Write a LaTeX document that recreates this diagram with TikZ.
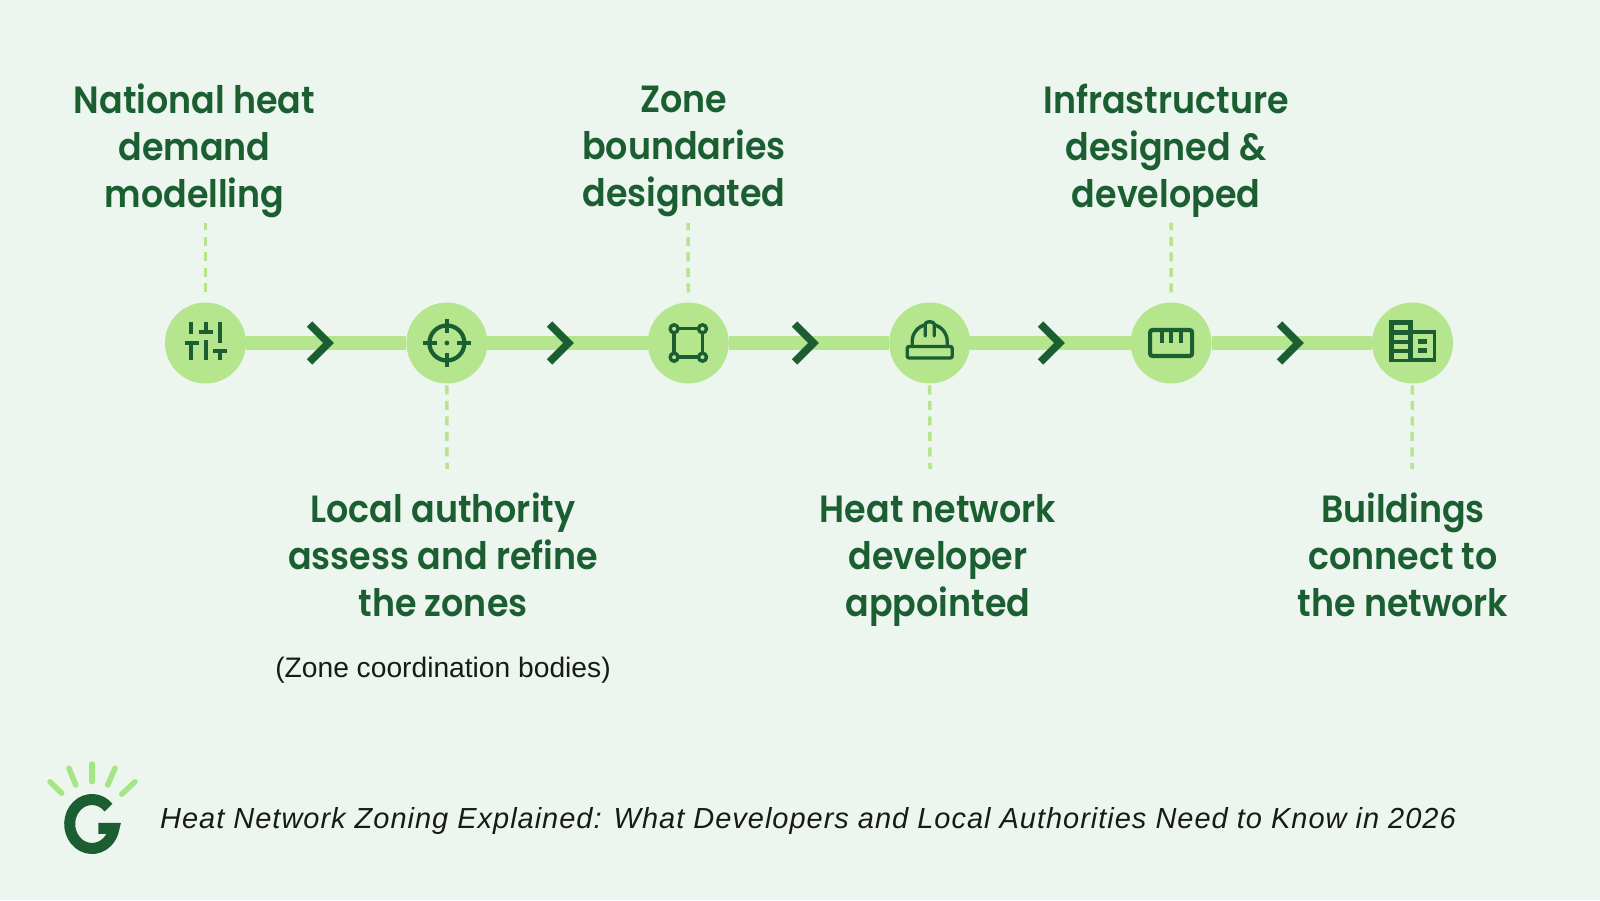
\documentclass[tikz,border=0pt]{standalone}
\usepackage{fontspec}
\setmainfont{Liberation Sans}
\newfontfamily\headfont{Poppins SemiBold}[FakeStretch=0.92]
\usetikzlibrary{backgrounds, positioning}
\definecolor{paper}{HTML}{ECF6EE}
\definecolor{leaf}{HTML}{B5E58C}
\definecolor{forest}{HTML}{1B5E31}
\definecolor{ray}{HTML}{A4E683}
\tikzset{
  stage/.style={circle, fill=leaf, minimum size=81pt, inner sep=0pt, outer sep=0pt},
  heading/.style={font=\headfont\fontsize{37.9}{47}\selectfont, text=forest, align=center, inner sep=0pt,
    execute at begin node=\rule{0pt}{33pt}, execute at end node=\rule[-14pt]{0pt}{14pt}},
  track/.style={draw=leaf, line width=14.5pt},
  leader/.style={draw=leaf, line width=3.5pt, dash pattern=on 9pt off 6.5pt},
  chevron/.style={draw=forest, line width=7.6pt, miter limit=10},
  icon/.style={draw=forest, line width=4.2pt},
  thinicon/.style={draw=forest, line width=3.4pt, line join=round, line cap=round},
  iconsliders/.pic={
    \draw[icon] (-14.2,20.7) -- (-14.2,9) (-21,0) -- (-7,0) (-14.2,0) -- (-14.2,-17);
    \draw[icon] (0.4,20.7) -- (0.4,11) (-7,11) -- (7.5,11) (0.4,3) -- (0.4,-17);
    \draw[icon] (14.5,20.7) -- (14.5,0) (7.5,-8) -- (21.5,-8) (14.5,-8) -- (14.5,-17);
  },
  icontarget/.pic={
    \draw[icon] (0,0) circle (17.5);
    \draw[icon] (0,24) -- (0,10) (0,-24) -- (0,-10) (-24,0) -- (-10,0) (24,0) -- (10,0);
    \fill[forest] (0,0) circle (2.4);
  },
  iconframe/.pic={
    \draw[thinicon] (-14.2,14.2) rectangle (14.2,-14.2);
    \foreach \cx in {-14.2,14.2} \foreach \cy in {-14.2,14.2}
      \draw[thinicon, fill=leaf] (\cx,\cy) circle (4);
  },
  iconhelmet/.pic={
    \draw[thinicon, rounded corners=2pt] (-22.5,-3.5) -- (22.5,-3.5) -- (22.5,-15) -- (-22.5,-15) -- cycle;
    \draw[thinicon] (-17.5,-3.5) -- (-17.5,2) .. controls (-17.5,10) and (-11,17) .. (-4.5,18);
    \draw[thinicon] (17.5,-3.5) -- (17.5,2) .. controls (17.5,10) and (11,17) .. (4.5,18);
    \draw[thinicon] (-4.5,7) -- (-4.5,19) .. controls (-4.5,22) and (4.5,22) .. (4.5,19) -- (4.5,7);
  },
  iconruler/.pic={
    \draw[icon, rounded corners=2.5pt] (-21,13) rectangle (21,-13);
    \draw[icon] (-9.5,13) -- (-9.5,0) (0,13) -- (0,0) (9.5,13) -- (9.5,0);
  },
  iconblocks/.pic={
    \fill[forest] (-23.6,23) rectangle (0.5,-19);
    \fill[forest] (0,13) rectangle (23.7,-19);
    \foreach \wy in {18,8,-1,-10.5}
      \fill[leaf] (-19,\wy) rectangle (-4.8,\wy-5.5);
    \fill[leaf] (0.5,9) rectangle (20,-15.5);
    \fill[forest] (5,3.8) rectangle (14.2,-0.6);
    \fill[forest] (5,-5.2) rectangle (14.2,-9.6);
  },
}
\begin{document}
\begin{tikzpicture}[x=1pt, y=1pt, line cap=butt]
  \useasboundingbox (0,0) rectangle (1600,900);
  % stages
  \node[stage] (s1) at (205.5,557) {};
  \node[stage] (s2) [right=160.4pt of s1] {};
  \node[stage] (s3) [right=160.4pt of s2] {};
  \node[stage] (s4) [right=160.4pt of s3] {};
  \node[stage] (s5) [right=160.4pt of s4] {};
  \node[stage] (s6) [right=160.4pt of s5] {};
  \begin{scope}[on background layer]
    \fill[paper] (0,0) rectangle (1600,900);
    \draw[track] (s1) -- (s2) -- (s3) -- (s4) -- (s5) -- (s6);
  \end{scope}
  \pic at (s1) {iconsliders};
  \pic at (s2) {icontarget};
  \pic at (s3) {iconframe};
  \pic at (s4) {iconhelmet};
  \pic at (s5) {iconruler};
  \pic at (s6) {iconblocks};
  % chevrons on the track
  \foreach \tipx in {328.6,568.6,813.6,1059.6,1298.6}
    \draw[chevron] (\tipx-19,576) -- (\tipx,557) -- (\tipx-19,538);
  % labels
  \node[heading] (l1) at (194.5,747.5) {National heat\\demand\\modelling};
  \node[heading] (l2) at (443,338) {Local authority\\assess and refine\\the zones};
  \node[heading] (l3) at (684,746.5) {Zone\\boundaries\\designated};
  \node[heading] (l4) at (938,338) {Heat network\\developer\\appointed};
  \node[heading] (l5) at (1166,747.5) {Infrastructure\\designed \&\\developed};
  \node[heading] (l6) at (1403,338) {Buildings\\connect to\\the network};
  \node[font=\fontsize{28.2}{32}\selectfont, text=black!90, inner sep=0pt] (l7) at (443,230) {(Zone coordination bodies)};
  % leaders
  \coordinate (d1) at (205.5,677);
  \coordinate (d2) at (447,431);
  \coordinate (d3) at (688,677);
  \coordinate (d4) at (930,431);
  \coordinate (d5) at (1171,677);
  \coordinate (d6) at (1412,431);
  \draw[leader, shorten <=10pt] (s1) ++(0,40.5) -- (d1);
  \draw[leader, shorten <=2pt] (s2) ++(0,-40.5) -- (d2);
  \draw[leader, shorten <=10pt] (s3) ++(0,40.5) -- (d3);
  \draw[leader, shorten <=2pt] (s4) ++(0,-40.5) -- (d4);
  \draw[leader, shorten <=10pt] (s5) ++(0,40.5) -- (d5);
  \draw[leader, shorten <=2pt] (s6) ++(0,-40.5) -- (d6);
  % logo
  \foreach \xa/\ya/\xb/\yb in {50/118.3/61.7/106.7, 69/131.7/75.7/115, 92/136/92/118.3, 115/131.7/107.7/115, 135/118.3/121.7/105.7}
    \draw[ray, line width=5.5pt, line cap=round] (\xa,\ya) -- (\xb,\yb);
  \draw[forest, line width=11pt] (92,76) ++(42:22.3 and 24.5) arc[start angle=42, end angle=350, x radius=22.3, y radius=24.5] -- ++(-15.6,0);
  \node[font=\itshape\fontsize{29}{34}\selectfont, text=black!90, anchor=west, inner sep=0pt] (cap) at (160,79) {\addfontfeature{LetterSpace=3.4}Heat Network Zoning Explained: What Developers and Local Authorities Need to Know in 2026};
\end{tikzpicture}
\end{document}
